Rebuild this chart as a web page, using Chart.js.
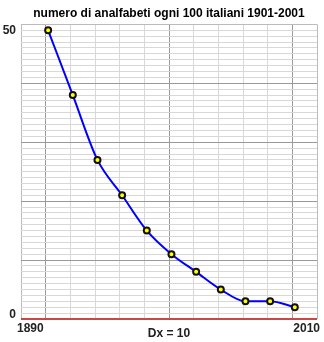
<!DOCTYPE html>
<html>
<head>
<meta charset="utf-8">
<script src="https://cdn.jsdelivr.net/npm/chart.js@4"></script>
<style>
  body { margin: 0; background: #fff; }
  canvas { display: block; }
</style>
</head>
<body>
<canvas id="lineChart" width="324" height="342"></canvas>
<script>
// dati: analfabeti ogni 100 italiani
var titleText = "numero di analfabeti ogni 100 italiani 1901-2001";
var years = [1901, 1911, 1921, 1931, 1941, 1951, 1961, 1971, 1981, 1991, 2001];
var values = [49, 38, 27, 21, 15, 11, 8, 5, 3, 3, 2];
var xMin = 1890, xMax = 2010, xStep = 10;
var yMin = 0, yMax = 50, yStep = 1;
var xLabels = ["1890", "2010"];
var yLabels = ["0", "50"];
var xNote = "Dx = " + xStep;

var font = "bold 12px 'Liberation Sans', Arial, sans-serif";

var points = years.map(function (y, i) {
    return { x: y, y: values[i] };
});

// scritte sugli assi
var axisText = {
    id: 'axisText',
    afterDraw: function (chart) {
        var c = chart.ctx;
        var xs = chart.scales.x, ys = chart.scales.y;
        var left = xs.getPixelForValue(xMin), right = xs.getPixelForValue(xMax);
        var top = ys.getPixelForValue(yMax), bottom = ys.getPixelForValue(yMin);
        c.save();
        c.font = font;
        c.fillStyle = "#222";
        c.textBaseline = "middle";
        c.textAlign = "left";
        c.fillText(xLabels[0], left - 4, bottom + 10);
        c.textAlign = "right";
        c.fillText(xLabels[1], right + 3, bottom + 10);
        c.fillText(yLabels[0], 16, bottom - 4);
        c.fillText(yLabels[1], 16, top + 6);
        c.textAlign = "center";
        c.fillText(xNote, (left + right) / 2, bottom + 15);
        c.restore();
    }
};

function generateChart() {
    var ctx = document.getElementById('lineChart');
    var lineChart = new Chart(ctx, {
        type: 'line',
        data: {
            datasets: [
                {
                    label: "analfabeti",
                    data: points,
                    fill: false,
                    borderColor: "#0000ff",
                    borderWidth: 2,
                    cubicInterpolationMode: 'monotone',
                    pointRadius: 3,
                    pointBorderWidth: 2,
                    pointBackgroundColor: "#ffff00",
                    pointBorderColor: "#111"
                }
            ]
        },
        options: {
            responsive: false,
            animation: false,
            layout: {
                padding: { left: 21, right: 7, top: 0, bottom: 23 }
            },
            plugins: {
                legend: { display: false },
                tooltip: { enabled: false },
                title: {
                    display: true,
                    text: titleText,
                    color: "#000",
                    font: { family: "'Liberation Sans', Arial, sans-serif", size: 12, weight: 'bold' },
                    padding: { top: 6, bottom: 4 }
                }
            },
            scales: {
                x: {
                    type: 'linear',
                    min: xMin,
                    max: xMax,
                    ticks: { display: false, stepSize: xStep },
                    border: { display: false },
                    grid: {
                        drawTicks: false,
                        color: function (c) {
                            var v = c.tick.value;
                            if (v % 50 === 0) return "#999";
                            if (v === xMin || v === xMax) return "#bbb";
                            return "#d8d8d8";
                        }
                    }
                },
                y: {
                    min: yMin,
                    max: yMax,
                    ticks: { display: false, stepSize: yStep },
                    border: { display: false },
                    grid: {
                        drawTicks: false,
                        color: function (c) {
                            var v = c.tick.value;
                            if (v === 0) return "#c84848";
                            if (v === yMax) return "#bbb";
                            if (v % 10 === 0) return "#999";
                            return "#d8d8d8";
                        },
                        lineWidth: function (c) {
                            return c.tick.value === 0 ? 2 : 1;
                        }
                    }
                }
            }
        },
        plugins: [axisText]
    });
}

generateChart();
</script>
</body>
</html>
